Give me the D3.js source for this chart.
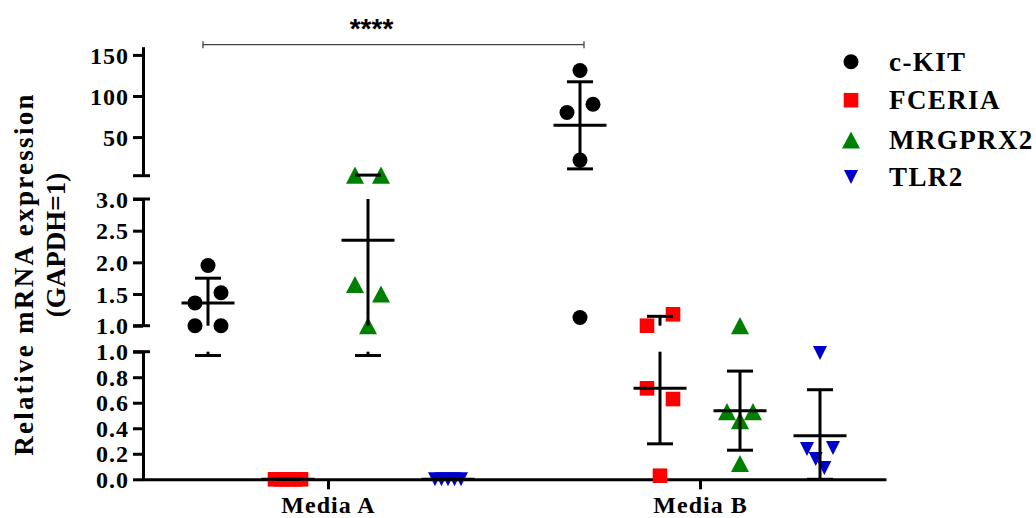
<!DOCTYPE html>
<html><head><meta charset="utf-8">
<script src="https://cdn.jsdelivr.net/npm/d3@7"></script>
<style>body{margin:0;background:#fff}svg{display:block}</style>
</head><body>
<svg id="c" width="1036" height="518"></svg>
<script>
// ---------- data ----------
const categories = ['Media A', 'Media B'];
const series = ['c-KIT', 'FCERIA', 'MRGPRX2', 'TLR2'];
const colors = ['#000000', '#ff0000', '#008000', '#0000cc'];

const cKIT_A = [1.95, 1.52, 1.36, 1.0, 1.0];
const cKIT_B = [131, 90, 80, 22, 1.13];
const FCERIA_A = [0, 0, 0, 0, 0];
const FCERIA_B = [1.18, 1.0, 0.713, 0.629, 0.028];
const MRGPRX2_A = [3.8, 3.8, 1.65, 1.5, 1.0];
const MRGPRX2_B = [1.0, 0.53, 0.53, 0.46, 0.124];
const TLR2_A = [0, 0, 0, 0, 0];
const TLR2_B = [0.99, 0.245, 0.237, 0.16, 0.088];

const meanA = [1.36, 0, 2.35, 0];
const meanB = [64.3, 0.713, 0.538, 0.342];
const sdA = [0.39, 0, 1.38, 0];
const sdB = [53, 0.435, 0.31, 0.36];

const ticksTop = [50, 100, 150];
const ticksMid = [1.0, 1.5, 2.0, 2.5, 3.0];
const ticksBot = [0.0, 0.2, 0.4, 0.6, 0.8, 1.0];
const yTitle1 = 'Relative mRNA expression';
const yTitle2 = '(GAPDH=1)';
const sigLabel = '****';

const values = [[cKIT_A, cKIT_B], [FCERIA_A, FCERIA_B], [MRGPRX2_A, MRGPRX2_B], [TLR2_A, TLR2_B]];
const means = [meanA, meanB];
const sds = [sdA, sdB];

// ---------- layout ----------
const svg = d3.select('#c');
const serif = "'Liberation Serif','Times New Roman',serif";
const axisX = 143;

const segs = [
  {scale: d3.scaleLinear().domain([3, 160]).range([175.7, 46.7]), ticks: ticksTop, fmt: d3.format('d'), capBottom: true, capTop: false},
  {scale: d3.scaleLinear().domain([1, 3]).range([325.7, 199]), ticks: ticksMid, fmt: d3.format('.1f'), capBottom: true, capTop: true},
  {scale: d3.scaleLinear().domain([0, 1]).range([479.3, 351.7]), ticks: ticksBot, fmt: d3.format('.1f'), capBottom: false, capTop: true}
];
function segFor(v) { return v > 3 ? segs[0] : (v >= 1 ? segs[1] : segs[2]); }
function yOf(v) { return segFor(v).scale(v); }

const x = d3.scalePoint().domain(categories).range([142, 886]).padding(0.5);
const xs = d3.scaleBand().domain(series).range([-160, 160]);
const xOff = s => xs(s) + xs.bandwidth() / 2;

// ---------- y axes ----------
segs.forEach(sg => {
  const g = svg.append('g').attr('transform', `translate(${axisX},0)`)
    .call(d3.axisLeft(sg.scale).tickValues(sg.ticks).tickFormat(sg.fmt).tickSize(10).tickSizeOuter(0));
  g.select('.domain').attr('stroke', '#000').attr('stroke-width', 3);
  g.selectAll('.tick line').attr('stroke', '#000').attr('stroke-width', 3);
  g.selectAll('.tick text').attr('x', -14).attr('dy', '0.34em')
    .attr('font-family', serif).attr('font-weight', 'bold').attr('font-size', 24).attr('fill', '#000')
    .attr('letter-spacing', 1);
  const r = sg.scale.range();
  if (sg.capBottom) g.append('line').attr('x1', -10).attr('x2', 7).attr('y1', r[0]).attr('y2', r[0]).attr('stroke', '#000').attr('stroke-width', 3);
  if (sg.capTop) g.append('line').attr('x1', -10).attr('x2', 7).attr('y1', r[1]).attr('y2', r[1]).attr('stroke', '#000').attr('stroke-width', 3);
});

// ---------- x axis ----------
const gx = svg.append('g').attr('transform', 'translate(0,479.3)')
  .call(d3.axisBottom(x).tickSize(10).tickSizeOuter(0));
gx.select('.domain').attr('stroke', '#000').attr('stroke-width', 3);
gx.selectAll('.tick line').attr('stroke', '#000').attr('stroke-width', 3);
gx.selectAll('.tick text').attr('y', 34).attr('dy', 0)
  .attr('font-family', serif).attr('font-weight', 'bold').attr('font-size', 24).attr('fill', '#000')
  .attr('letter-spacing', 1);

// ---------- y title ----------
svg.append('text').attr('transform', 'translate(33,274) rotate(-90)').attr('text-anchor', 'middle')
  .attr('font-family', serif).attr('font-weight', 'bold').attr('font-size', 27).attr('letter-spacing', 2.3).text(yTitle1);
svg.append('text').attr('transform', 'translate(65,245) rotate(-90)').attr('text-anchor', 'middle')
  .attr('font-family', serif).attr('font-weight', 'bold').attr('font-size', 27).text(yTitle2);

// ---------- symbols ----------
function symbolPath(i) {
  if (i === 0) return d3.symbol(d3.symbolCircle, Math.PI * 7.5 * 7.5)();
  if (i === 1) return 'M-7.3,-7.3H7.3V7.3H-7.3Z';
  if (i === 2) return 'M0,-8.6L9,8.6L-9,8.6Z';
  return 'M-7,-7L7,-7L0,7Z';
}

// dodge overlapping points within a column (side alternates between clusters)
function dodge(vals) {
  const pts = vals.map(v => ({v, y: yOf(v), dx: 0})).sort((a, b) => a.y - b.y);
  const clusters = [];
  pts.forEach(p => {
    const last = clusters[clusters.length - 1];
    if (last && p.y - last[last.length - 1].y < 14) last.push(p); else clusters.push([p]);
  });
  let side = 1;
  clusters.forEach(cl => {
    const n = cl.length;
    if (n === 1) return;
    const pos = d3.range(n).map(k => -13 + 26 * k / (n - 1));
    pos.sort((a, b) => Math.abs(b) - Math.abs(a) || side * (b - a));
    cl.forEach((p, k) => { p.dx = pos[k]; });
    side = -side;
  });
  return pts;
}

const gp = svg.append('g');
const ge = svg.append('g');
categories.forEach((cat, ci) => {
  series.forEach((s, si) => {
    const cx = x(cat) + xOff(s);
    dodge(values[si][ci]).forEach(p => {
      gp.append('path').attr('d', symbolPath(si)).attr('fill', colors[si])
        .attr('transform', `translate(${cx + p.dx},${p.y})`);
    });
    // error bars
    const m = means[ci][si], sd = sds[ci][si];
    const lo = Math.max(0, m - sd), hi = m + sd;
    segs.forEach(sg => {
      const d = sg.scale.domain();
      const a = Math.max(lo, d[0]), b = Math.min(hi, d[1]);
      if (a < b) ge.append('line').attr('x1', cx).attr('x2', cx)
        .attr('y1', sg.scale(a)).attr('y2', sg.scale(b)).attr('stroke', '#000').attr('stroke-width', 3);
    });
    [lo, hi].forEach(v => ge.append('line').attr('x1', cx - 13).attr('x2', cx + 13)
      .attr('y1', yOf(v)).attr('y2', yOf(v)).attr('stroke', '#000').attr('stroke-width', 3));
    ge.append('line').attr('x1', cx - 26.5).attr('x2', cx + 26.5)
      .attr('y1', yOf(m)).attr('y2', yOf(m)).attr('stroke', '#000').attr('stroke-width', 3);
  });
});

// ---------- significance bracket ----------
const bx1 = x('Media A') + xOff('c-KIT') - 5, bx2 = x('Media B') + xOff('c-KIT') + 4;
const by = 44.7;
const gs = svg.append('g').attr('stroke', '#444').attr('stroke-width', 1.3);
gs.append('line').attr('x1', bx1).attr('x2', bx2).attr('y1', by).attr('y2', by);
gs.append('line').attr('x1', bx1).attr('x2', bx1).attr('y1', by - 3.5).attr('y2', by + 3.5);
gs.append('line').attr('x1', bx2).attr('x2', bx2).attr('y1', by - 3.5).attr('y2', by + 3.5);
svg.append('text').attr('x', (bx1 + bx2) / 2 - 22).attr('y', 38).attr('text-anchor', 'middle')
  .attr('font-family', "'Liberation Sans',Arial,sans-serif").attr('font-weight', 'bold').attr('font-size', 28)
  .text(sigLabel);

// ---------- legend ----------
const lg = svg.append('g');
const legendY = [61.7, 100.2, 140, 177];
series.forEach((s, i) => {
  lg.append('path').attr('d', symbolPath(i)).attr('fill', colors[i])
    .attr('transform', `translate(851,${legendY[i]})`);
  lg.append('text').attr('x', 889).attr('y', legendY[i] + 9)
    .attr('font-family', serif).attr('font-weight', 'bold').attr('font-size', 27)
    .attr('letter-spacing', 1.4).text(s);
});
</script>
</body></html>
